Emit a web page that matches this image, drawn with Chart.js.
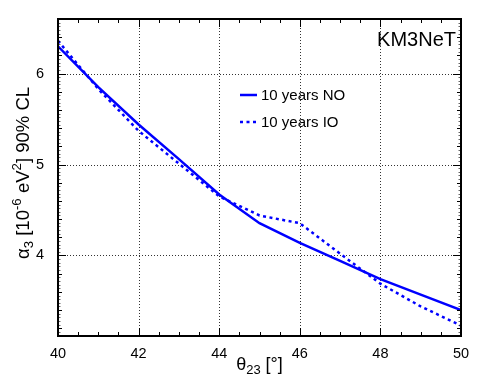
<!DOCTYPE html>
<html>
<head>
<meta charset="utf-8">
<script src="https://cdn.jsdelivr.net/npm/chart.js@4.4.1/dist/chart.umd.min.js"></script>
<style>
  html, body { margin: 0; padding: 0; background: #fff; }
  canvas { display: block; }
</style>
</head>
<body>
<canvas id="limitChart" width="486" height="382"></canvas>
<script>
// values
const theta23 = [40, 41, 42, 43, 44, 45, 46, 47, 48, 49, 50];
const alphaNO = [6.30, 5.85, 5.44, 5.06, 4.67, 4.355, 4.14, 3.94, 3.74, 3.57, 3.40];
const alphaIO = [6.36, 5.83, 5.37, 5.01, 4.65, 4.44, 4.355, 4.02, 3.69, 3.44, 3.23];
const xTickValues = [40, 42, 44, 46, 48, 50];
const yTickValues = [4, 5, 6];
const seriesLabels = ["10 years NO", "10 years IO"];

const FONT = "'Liberation Sans', Arial, Helvetica, sans-serif";
const BLUE = "#0000ff";

function toPoints(xs, ys) {
    return xs.map((x, i) => ({ x: x, y: ys[i] }));
}

// draws text made of pieces; piece.k = "sub" / "sup" / undefined
function drawRich(ctx, parts, x, y, size) {
    const small = size * 0.72;
    let total = 0;
    parts.forEach(p => {
        ctx.font = (p.k ? small : size) + "px " + FONT;
        p.w = ctx.measureText(p.t).width;
        total += p.w;
    });
    let cx = x - total / 2;
    ctx.textBaseline = "alphabetic";
    ctx.textAlign = "left";
    parts.forEach(p => {
        ctx.font = (p.k ? small : size) + "px " + FONT;
        let dy = 0;
        if (p.k === "sub") dy = size * 0.22;
        if (p.k === "sup") dy = -size * 0.42;
        ctx.fillText(p.t, cx, y + dy);
        cx += p.w;
    });
}

// dotted grid at the labelled ticks
const gridPlugin = {
    id: "gridPlugin",
    beforeDatasetsDraw(chart) {
        const ctx = chart.ctx;
        const a = chart.chartArea;
        const xs = chart.scales.x;
        const ys = chart.scales.y;
        ctx.save();
        ctx.strokeStyle = "rgba(0,0,0,0.8)";
        ctx.lineWidth = 1;
        ctx.setLineDash([1, 2]);
        ctx.beginPath();
        xTickValues.slice(1, -1).forEach(v => {
            const px = Math.round(xs.getPixelForValue(v)) + 0.5;
            ctx.moveTo(px, a.top); ctx.lineTo(px, a.bottom);
        });
        yTickValues.forEach(v => {
            const py = Math.round(ys.getPixelForValue(v)) + 0.5;
            ctx.moveTo(a.left, py); ctx.lineTo(a.right, py);
        });
        ctx.stroke();
        ctx.restore();
    }
};

const framePlugin = {
    id: "framePlugin",
    afterDraw(chart) {
        const ctx = chart.ctx;
        const a = chart.chartArea;
        const xs = chart.scales.x;
        const ys = chart.scales.y;
        ctx.save();

        // ticks pointing inwards
        ctx.strokeStyle = "#000";
        ctx.lineWidth = 1;
        ctx.beginPath();
        for (let v = 40; v <= 50.001; v += 0.5) {
            const px = Math.round(xs.getPixelForValue(v)) + 0.5;
            const len = (Math.abs(v / 2 - Math.round(v / 2)) < 1e-6) ? 8 : 4;
            ctx.moveTo(px, a.bottom); ctx.lineTo(px, a.bottom - len);
            ctx.moveTo(px, a.top); ctx.lineTo(px, a.top + len);
        }
        for (let v = 3.2; v <= 6.6; v += 0.2) {
            const py = Math.round(ys.getPixelForValue(v)) + 0.5;
            const len = (Math.abs(v - Math.round(v)) < 1e-6) ? 8 : 4;
            ctx.moveTo(a.left, py); ctx.lineTo(a.left + len, py);
            ctx.moveTo(a.right, py); ctx.lineTo(a.right - len, py);
        }
        ctx.stroke();
        ctx.globalAlpha = 0.6;
        ctx.beginPath();
        for (let v = 3.12; v <= 6.6; v += 0.04) {
            const py = Math.round(ys.getPixelForValue(v)) + 0.5;
            ctx.moveTo(a.left, py); ctx.lineTo(a.left + 2.5, py);
            ctx.moveTo(a.right, py); ctx.lineTo(a.right - 2.5, py);
        }
        ctx.stroke();
        ctx.globalAlpha = 1;

        // frame
        ctx.lineWidth = 2;
        ctx.strokeRect(a.left, a.top, a.right - a.left, a.bottom - a.top);

        // axis titles
        ctx.fillStyle = "#000";
        drawRich(ctx, [{ t: "θ" }, { t: "23", k: "sub" }, { t: " [°]" }], (a.left + a.right) / 2, 370, 18);
        ctx.save();
        ctx.translate(29, 173);
        ctx.rotate(-Math.PI / 2);
        drawRich(ctx, [
            { t: "α" }, { t: "3", k: "sub" }, { t: " [10" }, { t: "-6", k: "sup" },
            { t: " eV" }, { t: "2", k: "sup" }, { t: "] 90% CL" }
        ], 0, 0, 18.5);
        ctx.restore();

        // experiment label
        ctx.font = "20px " + FONT;
        ctx.textAlign = "right";
        ctx.textBaseline = "alphabetic";
        ctx.fillText("KM3NeT", 456, 46);

        // legend
        chart.data.datasets.forEach((ds, i) => {
            const ly = 95 + i * 27;
            ctx.strokeStyle = ds.borderColor;
            ctx.lineWidth = ds.borderWidth;
            ctx.setLineDash(ds.borderDash || []);
            ctx.beginPath();
            ctx.moveTo(240, ly);
            ctx.lineTo(257, ly);
            ctx.stroke();
            ctx.setLineDash([]);
            ctx.fillStyle = "#000";
            ctx.font = "15px " + FONT;
            ctx.textAlign = "left";
            ctx.textBaseline = "middle";
            ctx.fillText(ds.label, 261, ly + 1);
        });
        ctx.restore();
    }
};

new Chart(document.getElementById("limitChart"), {
    type: "line",
    data: {
        datasets: [
            {
                label: seriesLabels[0],
                data: toPoints(theta23, alphaNO),
                borderColor: BLUE,
                borderWidth: 2.5,
                pointRadius: 0,
                tension: 0,
                fill: false
            },
            {
                label: seriesLabels[1],
                data: toPoints(theta23, alphaIO),
                borderColor: BLUE,
                borderWidth: 2.5,
                borderDash: [3, 3.5],
                pointRadius: 0,
                tension: 0,
                fill: false
            }
        ]
    },
    options: {
        responsive: false,
        animation: false,
        devicePixelRatio: 1,
        layout: { padding: { top: 19, right: 25, left: 0, bottom: 0 } },
        plugins: {
            legend: { display: false },
            tooltip: { enabled: false }
        },
        scales: {
            x: {
                type: "linear",
                min: 40,
                max: 50,
                afterBuildTicks: scale => { scale.ticks = xTickValues.map(v => ({ value: v })); },
                afterFit: scale => { scale.height = 46; },
                ticks: {
                    color: "#000",
                    padding: 1,
                    maxRotation: 0,
                    font: { family: FONT, size: 14.5 }
                },
                grid: { display: false },
                border: { display: false }
            },
            y: {
                type: "linear",
                min: 3.115,
                max: 6.6,
                afterBuildTicks: scale => { scale.ticks = yTickValues.map(v => ({ value: v })); },
                afterFit: scale => { scale.width = 58; },
                ticks: {
                    color: "#000",
                    padding: 6,
                    font: { family: FONT, size: 14.5 }
                },
                grid: { display: false },
                border: { display: false }
            }
        }
    },
    plugins: [gridPlugin, framePlugin]
});
</script>
</body>
</html>
